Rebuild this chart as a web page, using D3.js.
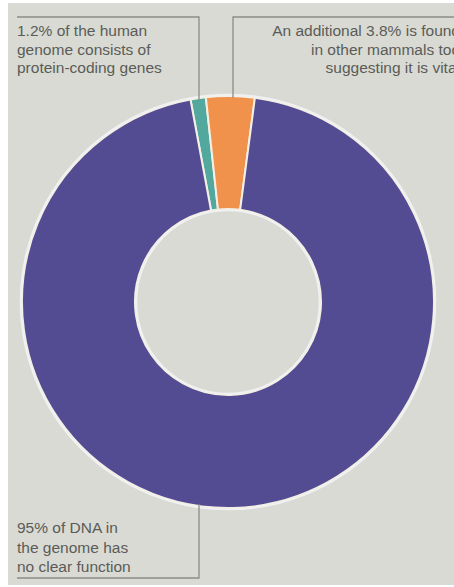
<!DOCTYPE html>
<html>
<head>
<meta charset="utf-8">
<script src="https://cdn.jsdelivr.net/npm/d3@7/dist/d3.min.js"></script>
<style>
  html, body { margin: 0; padding: 0; background: #fff; }
  svg { display: block; }
</style>
</head>
<body>
<div id="chart"></div>
<script>
'use strict';

// share of the human genome
const categories = ["protein-coding", "conserved", "no clear function"];
const shares = [1.2, 3.8, 95];
const sliceColors = ["#52a89c", "#f0924c", "#534c92"];

// annotation texts
const notes = [
    ["1.2% of the human", "genome consists of", "protein-coding genes"],
    ["An additional 3.8% is found", "in other mammals too", "suggesting it is vital"],
    ["95% of DNA in", "the genome has", "no clear function"]
];

const W = 454, H = 587;
const cx = 228, cy = 302, rOuter = 206, rInner = 93;
const startDeg = -10.5;

const svg = d3.select("#chart").append("svg")
    .attr("width", W)
    .attr("height", H);

// paper background (scan has a thin white margin)
svg.append("rect")
    .attr("x", 8).attr("y", 3)
    .attr("width", W - 8).attr("height", H - 5)
    .attr("fill", "#d9dad3");

const color = d3.scaleOrdinal().domain(categories).range(sliceColors);

const pie = d3.pie()
    .sort(null)
    .value(d => d.v)
    .startAngle(startDeg * Math.PI / 180)
    .endAngle((startDeg + 360) * Math.PI / 180);

const arc = d3.arc().innerRadius(rInner).outerRadius(rOuter);

const data = categories.map((c, i) => ({ c: c, v: shares[i] }));

const g = svg.append("g").attr("transform", `translate(${cx},${cy})`);

// light rim around the ring
g.append("circle").attr("r", rOuter + 1)
    .attr("fill", "none").attr("stroke", "#eef2f6").attr("stroke-width", 2.5);
g.append("circle").attr("r", rInner - 1)
    .attr("fill", "none").attr("stroke", "#eef2f6").attr("stroke-width", 2.5);

g.selectAll("path.slice")
    .data(pie(data))
    .join("path")
    .attr("class", "slice")
    .attr("d", arc)
    .attr("fill", d => color(d.data.c))
    .attr("stroke", "#f4efe6")
    .attr("stroke-width", 2);

// y on the outer rim for a given x (top or bottom half)
function rimY(x, top) {
    const dx = x - cx;
    const dy = Math.sqrt(rOuter * rOuter - dx * dx);
    return top ? cy - dy + 2 : cy + dy - 2;
}

const lineColor = "#8c8d88";
const leaders = [
    [[17, 17], [199, 17], [199, rimY(199, true)]],
    [[W, 17], [233, 17], [233, rimY(233, true)]],
    [[17, 578], [199, 578], [199, rimY(199, false)]]
];
svg.selectAll("path.leader")
    .data(leaders)
    .join("path")
    .attr("class", "leader")
    .attr("d", d3.line())
    .attr("fill", "none")
    .attr("stroke", lineColor)
    .attr("stroke-width", 1.3);

const textStyle = sel => sel
    .attr("font-family", "'Liberation Sans Narrow', 'Arial Narrow', sans-serif")
    .attr("font-size", 15.5)
    .attr("fill", "#5b5c58");

// the right-hand note runs off the page edge, as in the scan
const noteSpecs = [
    { x: 17, y: 36, anchor: "start", dy: 18.5 },
    { x: 460, y: 36, anchor: "end", dy: 18.5 },
    { x: 17, y: 533, anchor: "start", dy: 19.5 }
];

noteSpecs.forEach((s, i) => {
    const t = svg.append("text")
        .attr("text-anchor", s.anchor)
        .call(textStyle);
    notes[i].forEach((line, j) => {
        t.append("tspan")
            .attr("x", s.x)
            .attr("y", s.y + j * s.dy)
            .text(line);
    });
});
</script>
</body>
</html>
